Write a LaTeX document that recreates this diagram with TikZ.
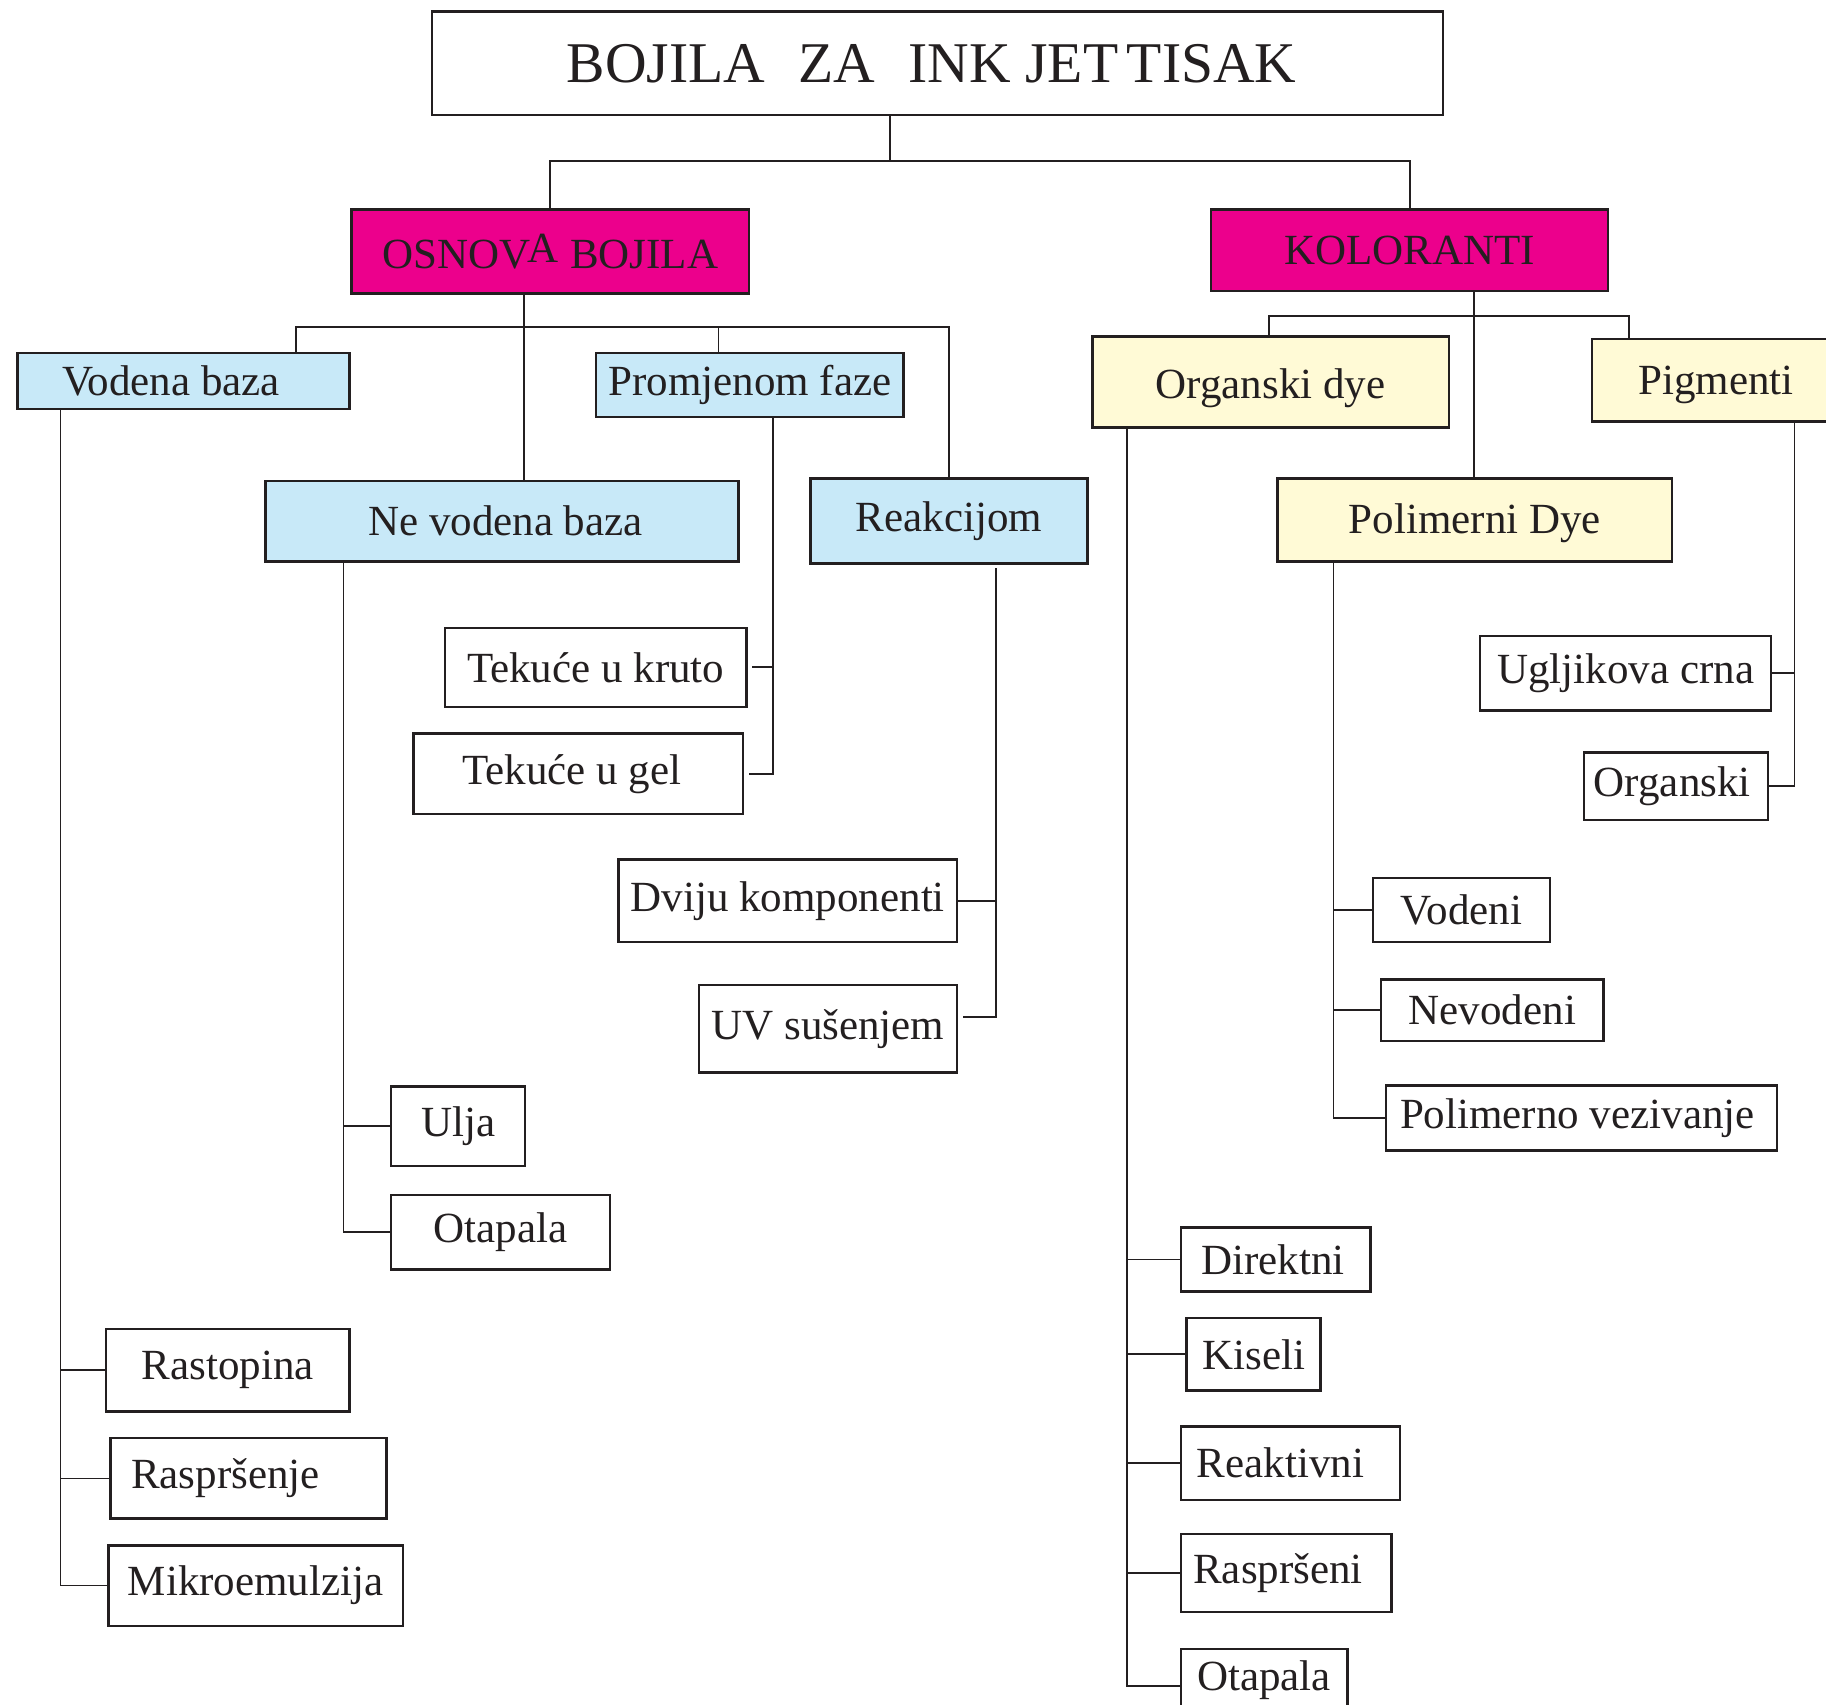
\documentclass[tikz,border=0pt]{standalone}
\usepackage{fontspec}
\setmainfont{Liberation Serif}
% one drawing unit in points
\newlength\dpx
\setlength\dpx{0.58227pt}
% shift a label sideways inside its box without changing the box
\newcommand\tsh[2]{\hspace*{#1\dpx}#2\hspace*{-#1\dpx}}
% shift a label up or down inside its box without changing the box
\newcommand\tup[2]{\raisebox{#1\dpx}[\height][\depth]{#2}}
\definecolor{ink}{HTML}{231F20}
\definecolor{magentabox}{HTML}{EC008C}
\definecolor{bluebox}{HTML}{C8E9F8}
\definecolor{yellowbox}{HTML}{FFFAD6}
\tikzset{
  box/.style={draw=ink, line width=1.2pt, inner sep=0pt, outer sep=0pt,
    text=ink, fill=white, font=\fontsize{21.5}{24}\selectfont},
  sz/.style 2 args={minimum width=#1*\dpx, minimum height=#2*\dpx},
  mag/.style={fill=magentabox},
  blu/.style={fill=bluebox},
  yel/.style={fill=yellowbox},
  link/.style={draw=ink, line width=0.9pt},
  gap/.style={shorten >=3pt},
}
\begin{document}
\begin{tikzpicture}[x=0.58227pt, y=-0.58227pt]
\useasboundingbox (0,0) rectangle (1568,1464);

% ---- title and main groups
\node[box, sz={868}{89}, font=\fontsize{28.8}{32}\selectfont] (title) at (805,54.5)
  {\tsh{-5}{BOJILA\hspace{0.58em}ZA\hspace{0.58em}INK JET\hspace{0.15em}TISAK}};
\node[box, mag, sz={341}{72}] (osnova) at (472.5,216)
  {OSNOV\kern-1.5pt\raisebox{3pt}{A}\kern0.5pt\ BOJILA};
\node[box, mag, sz={341}{70}] (kol) at (1210.5,215) {KOLORANTI};

% ---- ink base branch
\node[box, blu, sz={285}{48}] (vodena) at (157.5,327) {\tsh{-10.5}{Vodena baza}};
\node[box, blu, sz={264}{55}] (promj) at (644,330.5) {Promjenom faze};
\node[box, blu, sz={406}{69}] (nevod) at (431,447.5) {\tsh{3}{Ne vodena baza}};
\node[box, blu, sz={238}{73}] (reak) at (815,447.5) {Reakcijom};

\node[box, sz={259}{68}] (kruto) at (511.5,573) {Tekuće u kruto};
\node[box, sz={283}{69}] (gel) at (496.5,664.5) {\tsh{-5.5}{Tekuće u gel}};
\node[box, sz={291}{71}] (dviju) at (676.5,773.5) {Dviju komponenti};
\node[box, sz={222}{75}] (uv) at (711,883.5) {UV sušenjem};
\node[box, sz={115}{68}] (ulja) at (393.5,967) {Ulja};
\node[box, sz={188}{64}] (otap1) at (430,1058) {Otapala};
\node[box, sz={209}{71}] (rastop) at (195.5,1176.5) {Rastopina};
\node[box, sz={237}{69}] (rasprs) at (213.5,1269.5) {\tsh{-20}{Raspršenje}};
\node[box, sz={253}{69}] (mikro) at (219.5,1361.5) {Mikroemulzija};

% ---- colorant branch
\node[box, yel, sz={306}{78}] (orgdye) at (1091,328) {\tup{-5}{Organski dye}};
\node[box, yel, sz={213}{71}] (pigm) at (1473.5,326.5) {\tup{-4}{Pigmenti}};
\node[box, yel, sz={339}{71}] (polim) at (1266.5,446.5) {\tup{-3}{Polimerni Dye}};

\node[box, sz={250}{64}] (uglj) at (1396,578) {Ugljikova crna};
\node[box, sz={158}{58}] (organ) at (1439,675) {\tsh{-3}{Organski}};
\node[box, sz={152}{55}] (vodeni) at (1255,781.5) {Vodeni};
\node[box, sz={191}{53}] (nevodeni) at (1281.5,867.5) {Nevodeni};
\node[box, sz={336}{56}] (polvez) at (1358,960) {\tsh{-3.5}{Polimerno vezivanje}};
\node[box, sz={163}{55}] (direkt) at (1095.5,1081.5) {\tsh{-2.5}{Direktni}};
\node[box, sz={115}{62}] (kiseli) at (1076.5,1163) {Kiseli};
\node[box, sz={188}{63}] (reakt) at (1108,1256.5) {\tsh{-8.5}{Reaktivni}};
\node[box, sz={181}{67}] (rasprs2) at (1104.5,1350.5) {\tsh{-7}{Raspršeni}};
\node[box, sz={143}{64}] (otap2) at (1085.5,1448) {\tup{5}{Otapala}};

% ---- junction points of the connector trees
\coordinate (t0) at (764,138);
\coordinate (o0) at (450,281);
\coordinate (oL) at (254,281);
\coordinate (oM) at (617,281);
\coordinate (oR) at (815,281);
\coordinate (k0) at (1266,271);
\coordinate (kL) at (1090,271);
\coordinate (kR) at (1399,271);
\coordinate (v0) at (52,0);
\coordinate (n0) at (295,0);
\coordinate (p0) at (664,0);
\coordinate (r0) at (855,488);
\coordinate (r1) at (855,873);
\coordinate (g0) at (968,0);
\coordinate (d0) at (1145,0);
\coordinate (s0) at (1541,0);

% ---- connectors
\draw[link] (t0 |- title.south) -- (t0);
\draw[link] (osnova.north) |- (t0) -| (kol.north);

\draw[link] (o0 |- osnova.south) -- (o0 |- nevod.north);
\draw[link] (oL |- vodena.north) -- (oL) -- (oR) -- (oR |- reak.north);
\draw[link] (oM) -- (oM |- promj.north);

\draw[link] (k0 |- kol.south) -- (k0 |- polim.north);
\draw[link] (kL |- orgdye.north) -- (kL) -- (kR) -- (kR |- pigm.north);

\draw[link] (v0 |- vodena.south) |- (mikro.west);
\draw[link] (v0 |- rastop.west) -- (rastop.west);
\draw[link] (v0 |- rasprs.west) -- (rasprs.west);

\draw[link] (n0 |- nevod.south) |- (otap1.west);
\draw[link] (n0 |- ulja.west) -- (ulja.west);

\draw[link, gap] (p0 |- promj.south) |- (gel.east);
\draw[link, gap] (p0 |- kruto.east) -- (kruto.east);

\draw[link, gap] (r0) -- (r1) -- (r1 -| uv.east);
\draw[link] (r0 |- dviju.east) -- (dviju.east);

\draw[link] (g0 |- orgdye.south) |- (otap2.west);
\draw[link] (g0 |- direkt.west) -- (direkt.west);
\draw[link] (g0 |- kiseli.west) -- (kiseli.west);
\draw[link] (g0 |- reakt.west) -- (reakt.west);
\draw[link] (g0 |- rasprs2.west) -- (rasprs2.west);

\draw[link] (d0 |- polim.south) |- (polvez.west);
\draw[link] (d0 |- vodeni.west) -- (vodeni.west);
\draw[link] (d0 |- nevodeni.west) -- (nevodeni.west);

\draw[link] (s0 |- pigm.south) |- (organ.east);
\draw[link] (s0 |- uglj.east) -- (uglj.east);
\end{tikzpicture}
\end{document}
